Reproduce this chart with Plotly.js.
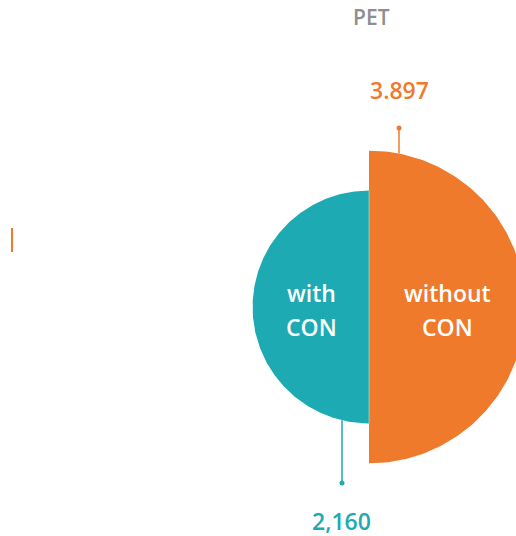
<!DOCTYPE html>
<html>
<head>
<meta charset="utf-8">
<script src="https://cdn.plot.ly/plotly-3.0.1.min.js"></script>
<style>html,body{margin:0;padding:0;background:#fff}#chart{width:516px;height:536px}</style>
</head>
<body>
<div id="chart"></div>
<script>
const title = "PET";
const categories = ["with CON", "without CON"];
const values = [2.160, 3.897];
const valueLabels = ["2,160", "3.897"];
const colors = ["#1EAAB3", "#EF7A2B"];

const W = 516, H = 536;
const cx = 369, cy = 307;
const k = 79.2; // px per sqrt(unit)
const radii = values.map(v => k * Math.sqrt(v));

function halfDisc(r, side) {
  const xs = [], ys = [];
  const n = 180;
  for (let i = 0; i <= n; i++) {
    const a = -Math.PI / 2 + Math.PI * i / n;
    xs.push(cx + side * r * Math.cos(a));
    ys.push(cy + r * Math.sin(a));
  }
  xs.push(cx); ys.push(cy - r);
  return {xs, ys};
}

const traces = [];
[[0, -1], [1, 1]].forEach(([i, side]) => {
  const d = halfDisc(radii[i], side);
  traces.push({type: "scatter", mode: "lines", x: d.xs, y: d.ys, fill: "toself",
    fillcolor: colors[i], line: {color: colors[i], width: 0}, hoverinfo: "skip", showlegend: false});
});
traces.push({type: "scatter", mode: "lines", x: [cx, cx], y: [cy - radii[0], cy + radii[0]],
  line: {color: "rgba(255,255,255,0.5)", width: 0.8}, hoverinfo: "skip", showlegend: false});

const lead = [
  {i: 0, dx: -27, end: 483, dir: 1},
  {i: 1, dx: 30, end: 128, dir: -1}
];
lead.forEach(l => {
  const r = radii[l.i];
  const yArc = cy + l.dir * Math.sqrt(r * r - l.dx * l.dx);
  traces.push({type: "scatter", mode: "lines", x: [cx + l.dx, cx + l.dx], y: [yArc, l.end],
    line: {color: colors[l.i], width: 1.5}, hoverinfo: "skip", showlegend: false});
  traces.push({type: "scatter", mode: "markers", x: [cx + l.dx], y: [l.end],
    marker: {color: colors[l.i], size: 5}, hoverinfo: "skip", showlegend: false});
});

traces.push({type: "scatter", mode: "lines", x: [12, 12], y: [228, 252],
  line: {color: colors[1], width: 2}, hoverinfo: "skip", showlegend: false});

const font = "'Open Sans', Lato, sans-serif";
const annotations = [
  {x: 371, y: 17, text: title, font: {family: font, size: 21, color: "#8E8E8E", weight: 600}},
  {x: 399, y: 90, text: valueLabels[1], font: {family: font, size: 23, color: colors[1], weight: 600}},
  {x: 341, y: 521, text: valueLabels[0], font: {family: font, size: 23, color: colors[0], weight: 600}}
];
[311, 447].forEach((x, i) => {
  const parts = categories[i].split(" ");
  parts.forEach((p, j) => {
    annotations.push({x: x, y: 293 + j * 34, text: p,
      font: {family: font, size: 23, color: "#fff", weight: 600}});
  });
});
annotations.forEach(a => Object.assign(a, {xref: "x", yref: "y", showarrow: false, xanchor: "center", yanchor: "middle"}));

const layout = {
  width: W, height: H,
  margin: {l: 0, r: 0, t: 0, b: 0},
  paper_bgcolor: "#fff", plot_bgcolor: "#fff",
  xaxis: {range: [0, W], visible: false, fixedrange: true},
  yaxis: {range: [H, 0], visible: false, fixedrange: true},
  annotations: annotations,
  showlegend: false
};
Plotly.newPlot("chart", traces, layout, {displayModeBar: false, staticPlot: true});
</script>
</body>
</html>
